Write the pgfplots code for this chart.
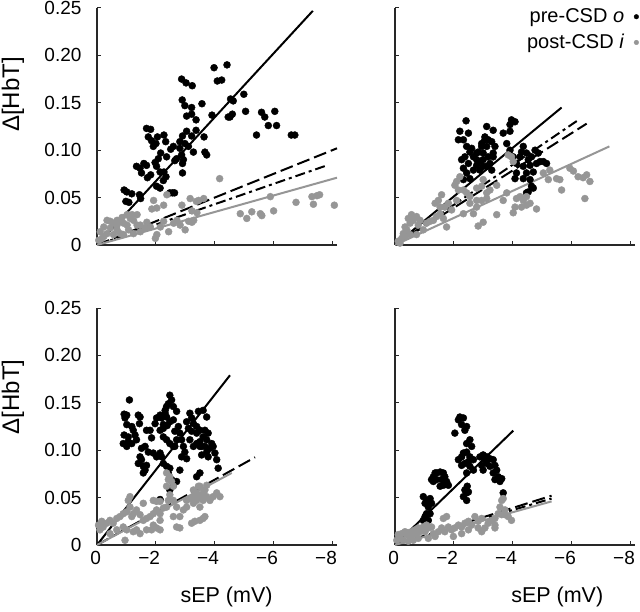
\documentclass[border=0pt]{standalone}
\usepackage{fontspec}
\setmainfont{Liberation Sans}
\usepackage{pgfplots}
\pgfplotsset{compat=1.18}
\definecolor{ptgray}{RGB}{150,150,150}
\definecolor{axgray}{RGB}{40,40,40}

\tikzset{lab/.style={font=\fontsize{24}{28}\selectfont, inner sep=0pt},
  xlab/.style={font=\fontsize{21.5}{26}\selectfont, inner sep=0pt}}
\pgfplotsset{
  panel/.style={
    scale only axis, width=240pt, height=237pt, anchor=south west,
    x dir=reverse, xmin=-8.14, xmax=0, ymin=0, ymax=0.25,
    axis x line=bottom, axis y line=left,
    axis line style={-, line width=1.2pt, axgray},
    tick style={line width=1pt, axgray},
    tick align=inside, major tick length=4pt,
    xtick={0,-2,-4,-6,-8}, ytick={0,0.05,0.1,0.15,0.2,0.25},
    xticklabels={0,−2,−4,−6,−8},
    yticklabels={0,0.05,0.10,0.15,0.20,0.25},
    tick label style={font=\fontsize{19}{22}\selectfont},
    yticklabel style={xshift=-12pt},
    xticklabel style={anchor=north east, xshift=7.5pt, yshift=-3pt},
    clip=false,
  },
  noxlab/.style={xticklabels={}},
  noylab/.style={yticklabels={}},
  pre/.style={only marks, mark=*, mark size=3.5pt, black, mark options={fill=black, draw=black}},
  post/.style={only marks, mark=*, mark size=3.5pt, ptgray, mark options={fill=ptgray, draw=ptgray}},
  fitb/.style={black, line width=2pt, forget plot},
  fitg/.style={ptgray, line width=2pt, forget plot},
  ldash/.style={dash pattern=on 13pt off 5pt},
  ddot/.style={dash pattern=on 10pt off 4pt on 3pt off 4pt},
}

\begin{document}
\begin{tikzpicture}
\useasboundingbox (0,0) rectangle (640pt,611pt);

% top left
\begin{axis}[panel, at={(97pt,366pt)}, noxlab]
\addplot[pre] coordinates {(-2.87,0.175)(-3.02,0.171)(-3.23,0.168)(-3.97,0.187)(-4.08,0.173)(-4.23,0.174)(-4.41,0.190)(-2.89,0.153)(-2.98,0.147)(-3.21,0.145)(-3.21,0.138)(-3.04,0.136)(-3.56,0.149)(-3.90,0.137)(-4.53,0.154)(-4.62,0.152)(-4.98,0.159)(-5.04,0.141)(-4.59,0.138)(-4.45,0.135)(-5.58,0.140)(-5.69,0.135)(-5.81,0.126)(-6.03,0.141)(-6.09,0.126)(-5.41,0.116)(-6.59,0.116)(-6.71,0.116)(-3.36,0.121)(-3.21,0.115)(-2.90,0.115)(-3.04,0.120)(-3.63,0.114)(-3.66,0.098)(-3.72,0.095)(-2.81,0.109)(-2.98,0.107)(-2.81,0.102)(-2.87,0.095)(-2.93,0.090)(-3.10,0.104)(-2.90,0.076)(-3.27,0.098)(-1.68,0.123)(-1.82,0.122)(-1.74,0.114)(-1.85,0.110)(-1.91,0.104)(-2.00,0.107)(-2.05,0.114)(-2.27,0.116)(-2.33,0.109)(-2.16,0.097)(-2.08,0.091)(-1.97,0.087)(-2.02,0.083)(-2.14,0.077)(-1.59,0.086)(-1.68,0.084)(-1.46,0.081)(-1.51,0.076)(-1.34,0.083)(-1.71,0.071)(-1.82,0.074)(-2.36,0.093)(-2.50,0.101)(-2.59,0.104)(-2.70,0.091)(-2.27,0.077)(-2.34,0.072)(-2.47,0.055)(-2.56,0.055)(-2.63,0.055)(-2.02,0.062)(-2.14,0.060)(-2.25,0.068)(-0.92,0.058)(-1.01,0.056)(-1.18,0.054)(-0.98,0.046)(-1.08,0.045)(-1.44,0.053)(-1.48,0.049)(-2.64,0.089)(-2.90,0.086)(-3.36,0.132)(-4.51,0.135)};
\addplot[post] coordinates {(-4.16,0.070)(-3.16,0.049)(-3.45,0.047)(-3.62,0.049)(-1.92,0.047)(-2.03,0.039)(-1.86,0.038)(-2.26,0.042)(-2.37,0.053)(-2.88,0.042)(-3.37,0.046)(-3.22,0.036)(-3.39,0.034)(-4.86,0.033)(-5.08,0.028)(-5.25,0.035)(-5.54,0.033)(-5.59,0.031)(-5.99,0.036)(-5.88,0.051)(-6.75,0.045)(-7.29,0.051)(-7.34,0.043)(-7.46,0.052)(-7.55,0.053)(-8.05,0.042)(-2.03,0.011)(-1.98,0.007)(-2.43,0.014)(-2.99,0.016)(-3.11,0.025)(-3.22,0.024)(-3.28,0.026)(-2.82,0.021)(-2.71,0.026)(-2.60,0.023)(-2.26,0.025)(-2.15,0.019)(-1.81,0.019)(-1.64,0.018)(-1.47,0.014)(-1.36,0.021)(-1.24,0.026)(-1.13,0.028)(-1.02,0.021)(-0.90,0.023)(-0.79,0.025)(-0.68,0.026)(-0.56,0.023)(-0.45,0.025)(-0.34,0.026)(-0.23,0.019)(-0.11,0.014)(-0.45,0.018)(-0.68,0.016)(-0.79,0.012)(-0.34,0.012)(-0.23,0.009)(-0.56,0.011)(-0.90,0.011)(-1.24,0.012)(-1.07,0.016)(-1.47,0.021)(-1.69,0.024)(-1.19,0.032)(-1.36,0.032)(-1.02,0.032)(-0.06,0.005)(-0.17,0.007)(-0.68,0.021)(-0.85,0.029)};
\addplot[fitb] coordinates {(0,0)(-7.32,0.247)};
\addplot[fitb, ldash] coordinates {(0,0)(-8.14,0.102)};
\addplot[fitb, ddot] coordinates {(0,0)(-7.8,0.084)};
\addplot[fitg] coordinates {(0,0)(-8.14,0.071)};
\node[lab, rotate=90] at (axis description cs:-0.35,0.635) {Δ[HbT]};
\end{axis}

% top right
\begin{axis}[panel, at={(395pt,366pt)}, noxlab, noylab,
  legend style={draw=none, fill=none, at={(axis description cs:1.017,1.005)}, anchor=north east,
    font=\fontsize{20}{24}\selectfont, row sep=6pt, inner sep=0pt},
  legend cell align=right, legend plot pos=right,
  legend image code/.code={\path (0pt,0pt); \fill (10pt,0pt) circle (2.3pt);}]
\addplot[pre] coordinates {(-2.41,0.131)(-2.20,0.120)(-2.15,0.111)(-2.32,0.111)(-2.49,0.118)(-2.43,0.104)(-2.54,0.098)(-2.37,0.093)(-2.26,0.090)(-2.49,0.086)(-2.32,0.081)(-2.43,0.076)(-2.32,0.069)(-2.54,0.070)(-2.66,0.079)(-2.77,0.090)(-2.82,0.098)(-2.94,0.104)(-2.99,0.097)(-3.05,0.111)(-3.11,0.104)(-3.16,0.093)(-3.22,0.086)(-3.28,0.079)(-3.11,0.083)(-2.99,0.083)(-2.88,0.088)(-2.77,0.084)(-2.66,0.093)(-3.33,0.093)(-3.39,0.104)(-3.33,0.097)(-3.11,0.125)(-3.33,0.121)(-3.05,0.114)(-2.94,0.107)(-3.16,0.111)(-3.28,0.109)(-2.99,0.090)(-2.88,0.079)(-2.77,0.097)(-2.60,0.102)(-3.67,0.118)(-3.90,0.127)(-3.95,0.132)(-4.07,0.130)(-3.90,0.120)(-3.79,0.107)(-3.90,0.100)(-4.01,0.093)(-4.12,0.086)(-4.35,0.104)(-4.52,0.090)(-4.63,0.093)(-4.58,0.084)(-4.69,0.077)(-4.80,0.086)(-4.92,0.088)(-5.03,0.088)(-5.14,0.086)(-4.86,0.097)(-4.75,0.100)(-4.35,0.083)(-4.46,0.076)(-4.35,0.070)(-4.58,0.069)(-4.63,0.062)(-4.52,0.056)(-4.46,0.055)(-4.69,0.060)(-4.12,0.076)(-4.24,0.093)(-4.29,0.098)(-4.46,0.097)(-4.07,0.070)};
\addlegendentry{pre-CSD \textit{o}}
\addplot[post] coordinates {(-0.11,0.004)(-0.23,0.007)(-0.28,0.012)(-0.40,0.016)(-0.34,0.019)(-0.51,0.023)(-0.62,0.026)(-0.45,0.028)(-0.56,0.032)(-0.73,0.030)(-0.85,0.026)(-0.96,0.016)(-0.73,0.011)(-0.51,0.011)(-0.34,0.009)(-0.17,0.002)(-0.79,0.021)(-1.07,0.023)(-1.19,0.025)(-1.30,0.026)(-1.41,0.030)(-1.53,0.033)(-1.64,0.028)(-1.75,0.019)(-1.36,0.044)(-1.47,0.047)(-1.58,0.053)(-1.53,0.040)(-1.69,0.040)(-1.81,0.044)(-1.92,0.037)(-2.09,0.047)(-2.15,0.058)(-2.09,0.067)(-2.20,0.072)(-2.03,0.063)(-2.32,0.058)(-2.43,0.055)(-2.54,0.051)(-2.77,0.047)(-2.94,0.062)(-2.99,0.069)(-3.11,0.055)(-3.22,0.058)(-3.45,0.032)(-2.82,0.020)(-2.99,0.024)(-2.77,0.040)(-2.66,0.033)(-2.32,0.033)(-2.54,0.044)(-2.77,0.060)(-2.94,0.047)(-3.11,0.049)(-3.45,0.063)(-3.84,0.095)(-4.01,0.088)(-5.25,0.079)(-5.48,0.070)(-5.59,0.069)(-5.65,0.058)(-5.93,0.081)(-6.05,0.078)(-6.21,0.072)(-6.38,0.071)(-6.50,0.074)(-6.61,0.067)(-6.44,0.049)(-4.12,0.049)(-4.24,0.051)(-4.35,0.047)(-4.46,0.051)(-4.58,0.044)(-4.07,0.040)(-4.29,0.040)(-4.80,0.038)(-4.01,0.034)(-4.46,0.042)(-3.95,0.093)(-5.03,0.076)(-5.20,0.069)(-3.67,0.047)(-3.79,0.055)};
\addlegendentry{post-CSD \textit{i}}
\addplot[fitb] coordinates {(0,0)(-5.65,0.145)};
\addplot[fitb, ldash] coordinates {(0,0)(-6.5,0.128)};
\addplot[fitb, ddot] coordinates {(0,0)(-6.27,0.133)};
\addplot[fitg] coordinates {(0,0)(-7.27,0.104)};
\end{axis}

% bottom left
\begin{axis}[panel, at={(97pt,66pt)}]
\addplot[pre] coordinates {(-1.10,0.153)(-0.92,0.138)(-1.01,0.137)(-0.95,0.134)(-1.01,0.127)(-1.18,0.125)(-0.92,0.116)(-1.06,0.114)(-1.06,0.109)(-1.18,0.107)(-0.89,0.107)(-1.01,0.104)(-1.23,0.121)(-1.40,0.137)(-1.46,0.135)(-1.44,0.128)(-1.29,0.116)(-1.34,0.111)(-1.51,0.102)(-1.63,0.104)(-1.46,0.093)(-1.51,0.090)(-1.40,0.086)(-1.57,0.083)(-1.68,0.084)(-1.57,0.076)(-1.63,0.079)(-1.74,0.098)(-1.85,0.113)(-1.91,0.097)(-1.80,0.121)(-1.97,0.128)(-2.02,0.134)(-1.68,0.121)(-2.14,0.137)(-2.19,0.134)(-2.31,0.139)(-2.36,0.135)(-2.47,0.130)(-2.38,0.126)(-2.25,0.127)(-2.14,0.121)(-2.25,0.114)(-2.36,0.111)(-2.47,0.107)(-2.59,0.104)(-2.14,0.097)(-2.02,0.093)(-2.19,0.093)(-2.25,0.086)(-2.36,0.083)(-2.47,0.081)(-2.42,0.076)(-2.53,0.069)(-2.59,0.063)(-2.70,0.067)(-2.81,0.079)(-2.47,0.158)(-2.53,0.153)(-2.42,0.149)(-2.59,0.146)(-2.36,0.146)(-2.31,0.142)(-2.70,0.141)(-2.59,0.132)(-2.76,0.125)(-2.64,0.120)(-2.81,0.118)(-2.87,0.111)(-2.70,0.111)(-2.64,0.104)(-2.93,0.104)(-2.98,0.098)(-3.04,0.091)(-2.87,0.093)(-3.21,0.120)(-3.15,0.111)(-3.27,0.104)(-3.38,0.107)(-3.49,0.109)(-3.60,0.114)(-3.55,0.104)(-3.66,0.104)(-3.77,0.118)(-3.72,0.111)(-3.49,0.121)(-3.15,0.139)(-3.21,0.134)(-3.04,0.130)(-3.10,0.123)(-3.27,0.128)(-3.38,0.125)(-3.38,0.118)(-3.66,0.121)(-3.72,0.135)(-3.60,0.142)(-3.44,0.141)(-3.49,0.104)(-3.55,0.095)(-3.72,0.098)(-3.77,0.093)(-3.83,0.102)(-3.94,0.104)(-4.00,0.097)(-4.06,0.090)(-4.11,0.081)(-3.89,0.107)(-3.49,0.076)(-3.38,0.072)(-2.14,0.048)(-2.47,0.058)(-2.25,0.123)};
\addplot[post] coordinates {(-0.10,0.016)(-0.21,0.019)(-0.33,0.023)(-0.16,0.025)(-0.05,0.021)(-0.44,0.026)(-0.55,0.023)(-0.67,0.028)(-0.78,0.030)(-0.89,0.033)(-1.01,0.035)(-1.12,0.040)(-1.06,0.047)(-1.12,0.051)(-1.23,0.033)(-1.34,0.037)(-1.46,0.032)(-1.57,0.026)(-1.68,0.028)(-1.80,0.030)(-1.91,0.033)(-2.02,0.037)(-2.14,0.033)(-2.25,0.039)(-2.36,0.040)(-2.42,0.047)(-2.47,0.053)(-1.91,0.047)(-2.02,0.046)(-2.14,0.046)(-2.36,0.062)(-2.47,0.072)(-2.36,0.076)(-2.42,0.069)(-2.53,0.067)(-2.59,0.062)(-0.44,0.012)(-0.67,0.016)(-0.89,0.019)(-1.01,0.016)(-1.23,0.014)(-1.34,0.016)(-1.46,0.012)(-1.68,0.016)(-1.91,0.021)(-2.02,0.018)(-2.14,0.026)(-2.59,0.030)(-2.70,0.019)(-2.81,0.030)(-2.93,0.037)(-3.04,0.040)(-2.70,0.040)(-2.59,0.047)(-3.27,0.044)(-3.38,0.047)(-3.49,0.051)(-3.60,0.055)(-3.66,0.058)(-3.72,0.063)(-3.49,0.062)(-3.27,0.051)(-3.38,0.055)(-3.60,0.047)(-3.72,0.051)(-3.83,0.047)(-3.94,0.051)(-4.06,0.055)(-4.17,0.051)(-3.49,0.040)(-3.21,0.023)(-3.32,0.025)(-3.49,0.026)(-3.60,0.028)(-3.66,0.030)(-2.81,0.018)(-3.04,0.047)(-0.95,0.005)(-2.14,0.016)(-1.85,0.016)(-1.18,0.030)(-1.57,0.044)(-3.27,0.058)(-3.44,0.062)(-3.15,0.049)};
\addplot[fitb] coordinates {(0,0)(-4.51,0.179)};
\addplot[fitb, ldash] coordinates {(0,0)(-5.36,0.0925)};
\addplot[fitg] coordinates {(0,0)(-4.57,0.076)};
\node[lab, rotate=90] at (axis description cs:-0.35,0.625) {Δ[HbT]};
\node[xlab] at (axis description cs:0.54,-0.22) {sEP (mV)};
\end{axis}

% bottom right
\begin{axis}[panel, at={(395pt,66pt)}, noylab]
\addplot[pre] coordinates {(-0.96,0.051)(-1.07,0.047)(-1.19,0.049)(-1.02,0.044)(-1.13,0.040)(-1.07,0.033)(-1.02,0.030)(-1.19,0.033)(-0.96,0.026)(-1.13,0.026)(-1.24,0.044)(-1.30,0.072)(-1.41,0.076)(-1.53,0.077)(-1.64,0.076)(-1.69,0.072)(-1.58,0.069)(-1.41,0.069)(-1.24,0.069)(-1.75,0.067)(-1.81,0.063)(-1.64,0.063)(-1.53,0.062)(-1.30,0.067)(-1.36,0.076)(-2.03,0.118)(-2.15,0.132)(-2.20,0.135)(-2.32,0.134)(-2.43,0.125)(-2.37,0.121)(-2.26,0.127)(-2.15,0.090)(-2.26,0.093)(-2.32,0.097)(-2.43,0.098)(-2.54,0.093)(-2.49,0.088)(-2.37,0.086)(-2.26,0.084)(-2.54,0.083)(-2.66,0.090)(-2.60,0.104)(-2.54,0.111)(-2.43,0.107)(-2.66,0.079)(-2.43,0.076)(-2.37,0.058)(-2.43,0.055)(-2.32,0.051)(-2.43,0.047)(-2.49,0.056)(-2.45,0.062)(-2.88,0.093)(-2.99,0.095)(-3.11,0.093)(-3.05,0.090)(-3.22,0.091)(-3.33,0.090)(-3.11,0.086)(-2.94,0.084)(-2.99,0.079)(-3.22,0.083)(-3.39,0.084)(-3.45,0.079)(-3.33,0.076)(-3.50,0.072)(-3.39,0.069)(-3.56,0.067)(-3.62,0.070)(-3.67,0.055)};
\addplot[post] coordinates {(-0.11,0.011)(-0.23,0.012)(-0.34,0.014)(-0.45,0.013)(-0.51,0.009)(-0.62,0.012)(-0.68,0.016)(-0.79,0.018)(-0.90,0.016)(-1.02,0.014)(-1.13,0.018)(-1.24,0.019)(-1.07,0.021)(-0.96,0.019)(-0.85,0.014)(-1.30,0.012)(-1.36,0.009)(-1.47,0.014)(-1.58,0.018)(-1.69,0.014)(-1.75,0.030)(-1.64,0.028)(-1.81,0.019)(-1.92,0.016)(-2.03,0.018)(-2.15,0.021)(-2.26,0.019)(-2.37,0.023)(-2.49,0.025)(-2.60,0.021)(-2.71,0.030)(-2.82,0.025)(-2.94,0.028)(-3.05,0.018)(-3.16,0.023)(-3.28,0.026)(-3.39,0.028)(-3.39,0.021)(-3.50,0.033)(-3.62,0.032)(-3.73,0.032)(-3.84,0.030)(-3.95,0.026)(-3.62,0.047)(-3.67,0.049)(-3.56,0.040)(-3.73,0.037)(-0.06,0.005)(-0.17,0.007)(-0.28,0.005)(-0.45,0.004)(-0.62,0.005)(-0.79,0.007)(-1.13,0.007)(-1.98,0.009)(-2.26,0.012)(-2.49,0.016)(-2.82,0.018)(-3.39,0.018)(-2.94,0.014)(-0.40,0.011)(-0.56,0.014)(-0.73,0.011)};
\addplot[fitb] coordinates {(0,0)(-4.01,0.1206)};
\addplot[fitb, ldash] coordinates {(0,0)(-5.31,0.052)};
\addplot[fitb, ddot] coordinates {(0,0)(-5.31,0.049)};
\addplot[fitg] coordinates {(0,0)(-5.31,0.046)};
\node[xlab] at (axis description cs:0.676,-0.22) {sEP (mV)};
\end{axis}
\end{tikzpicture}
\end{document}
